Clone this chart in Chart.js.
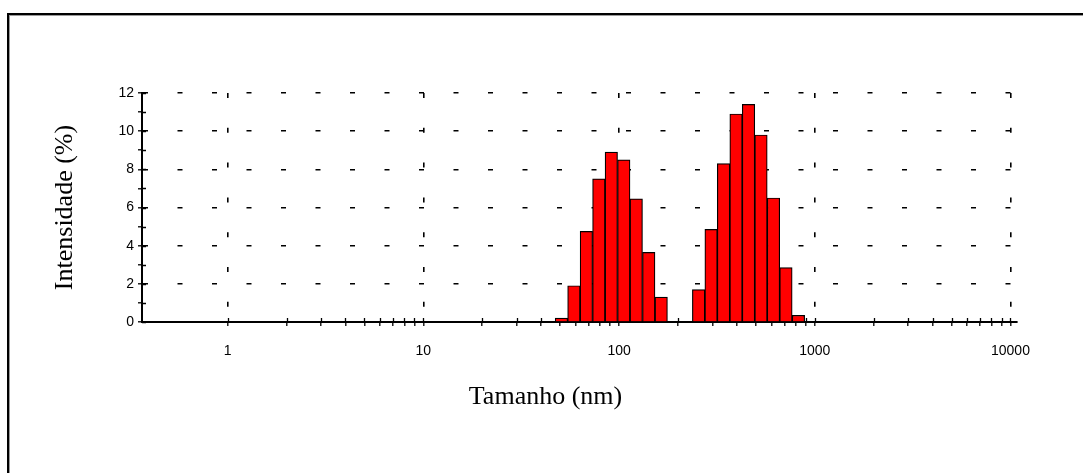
<!DOCTYPE html>
<html>
<head>
<meta charset="utf-8">
<script src="https://cdn.jsdelivr.net/npm/chart.js@4.4.1/dist/chart.umd.min.js"></script>
<style>
  html, body { margin: 0; padding: 0; background: #fff; }
  #wrap { position: relative; width: 1083px; height: 473px; overflow: hidden; }
  #frame { position: absolute; left: 7px; top: 13px; width: 1200px; height: 600px;
           border-top: 2px solid #000; border-left: 2px solid #000;
           box-shadow: inset 1px 1px 0 #9a9a9a; }
  #c { position: absolute; left: 0; top: 0; }
</style>
</head>
<body>
<div id="wrap">
  <div id="frame"></div>
  <canvas id="c" width="1083" height="473"></canvas>
</div>
<script>
// Size classes (nm) and intensity (%)
const sizes = [50.75, 58.77, 68.06, 78.82, 91.28, 105.7, 122.4, 141.8, 164.2, 190.1,
               220.2, 255.0, 295.3, 342.0, 396.1, 458.7, 531.2, 615.1, 712.4, 825.0];
const intensity = [0.2, 1.9, 4.75, 7.5, 8.9, 8.5, 6.45, 3.65, 1.3, 0,
                   0, 1.7, 4.85, 8.3, 10.9, 11.4, 9.8, 6.5, 2.85, 0.35];
const xMajorTicks = [1, 10, 100, 1000, 10000];
const xMinorMultipliers = [1, 2, 3, 4, 5, 6, 7, 8, 9];
const yTickLabels = [0, 2, 4, 6, 8, 10, 12];

const xTickValues = [];
xMajorTicks.slice(0, -1).forEach(m => xMinorMultipliers.forEach(k => xTickValues.push(m * k)));
xTickValues.push(xMajorTicks[xMajorTicks.length - 1]);

const serif = '"Liberation Serif", "Times New Roman", serif';

const innerTicks = {
  id: 'innerTicks',
  beforeDatasetsDraw(chart) {
    const {ctx, chartArea, scales: {x, y}} = chart;
    ctx.save();
    ctx.strokeStyle = '#000';
    ctx.lineWidth = 1.3;
    ctx.beginPath();
    x.ticks.forEach(t => {
      const px = Math.round(x.getPixelForValue(t.value)) + 0.5;
      ctx.moveTo(px, chartArea.bottom - 4);
      ctx.lineTo(px, chartArea.bottom);
    });
    y.ticks.forEach(t => {
      const py = Math.round(y.getPixelForValue(t.value)) + 0.5;
      ctx.moveTo(chartArea.left, py);
      ctx.lineTo(chartArea.left + 4, py);
    });
    ctx.stroke();
    ctx.restore();
  }
};

Chart.defaults.color = '#000';
Chart.defaults.font.family = '"Liberation Sans", Arial, sans-serif';

new Chart(document.getElementById('c'), {
  type: 'bar',
  data: {
    datasets: [{
      data: sizes.map((s, i) => ({x: s, y: intensity[i]})),
      backgroundColor: '#ff0000',
      borderColor: '#000',
      borderWidth: 1.2,
      borderSkipped: 'start',
      barThickness: 'flex',
      categoryPercentage: 1,
      barPercentage: 1
    }]
  },
  options: {
    responsive: false,
    animation: false,
    devicePixelRatio: 1,
    layout: { padding: { top: 93, right: 0, left: 8, bottom: 0 } },
    plugins: {
      legend: { display: false },
      tooltip: { enabled: false },
      title: {
        display: true, position: 'bottom', align: 'center', fullSize: true,
        text: 'Tamanho (nm)', color: '#000',
        font: { family: serif, size: 26, weight: 'normal' },
        padding: { top: 0, bottom: 60.4 }
      }
    },
    scales: {
      x: {
        type: 'logarithmic',
        min: 0.365,
        max: 10800,
        offset: false,
        afterBuildTicks: (scale) => { scale.ticks = xTickValues.map(v => ({value: v})); },
        afterFit: (scale) => { scale.height = 59.4; },
        ticks: {
          autoSkip: false, maxRotation: 0, minRotation: 0, padding: 17,
          font: { size: 14 },
          callback: (v) => xMajorTicks.includes(v) ? String(v) : ''
        },
        grid: {
          offset: false,
          lineWidth: 1.6,
          color: (c) => (c.tick && xMajorTicks.includes(c.tick.value)) ? '#000' : 'rgba(0,0,0,0)',
          tickColor: '#000',
          tickLength: 4,
          tickWidth: 1.3
        },
        border: { display: true, color: '#000', width: 2, dash: [5, 29.8] }
      },
      y: {
        type: 'linear',
        min: 0,
        max: 12,
        afterFit: (scale) => { scale.width = 134; },
        ticks: {
          stepSize: 1, autoSkip: false, padding: 4,
          font: { size: 14 },
          callback: (v) => yTickLabels.includes(v) ? String(v) : ''
        },
        grid: {
          lineWidth: 1.6,
          color: (c) => (c.tick && c.tick.value > 0 && yTickLabels.includes(c.tick.value)) ? '#000' : 'rgba(0,0,0,0)',
          tickColor: '#000',
          tickLength: 4,
          tickWidth: 1.3
        },
        border: { display: true, color: '#000', width: 2, dash: [5, 29.5] },
        title: {
          display: true, text: 'Intensidade (%)',
          font: { family: serif, size: 26 },
          padding: { top: 41.4, bottom: 0 }
        }
      },
      yR: {
        type: 'linear',
        position: 'right',
        display: true,
        min: 0,
        max: 12,
        afterFit: (scale) => { scale.width = 66; },
        ticks: { display: false },
        grid: { display: false, drawTicks: false },
        border: { display: false }
      }
    }
  },
  plugins: [innerTicks]
});
</script>
</body>
</html>
